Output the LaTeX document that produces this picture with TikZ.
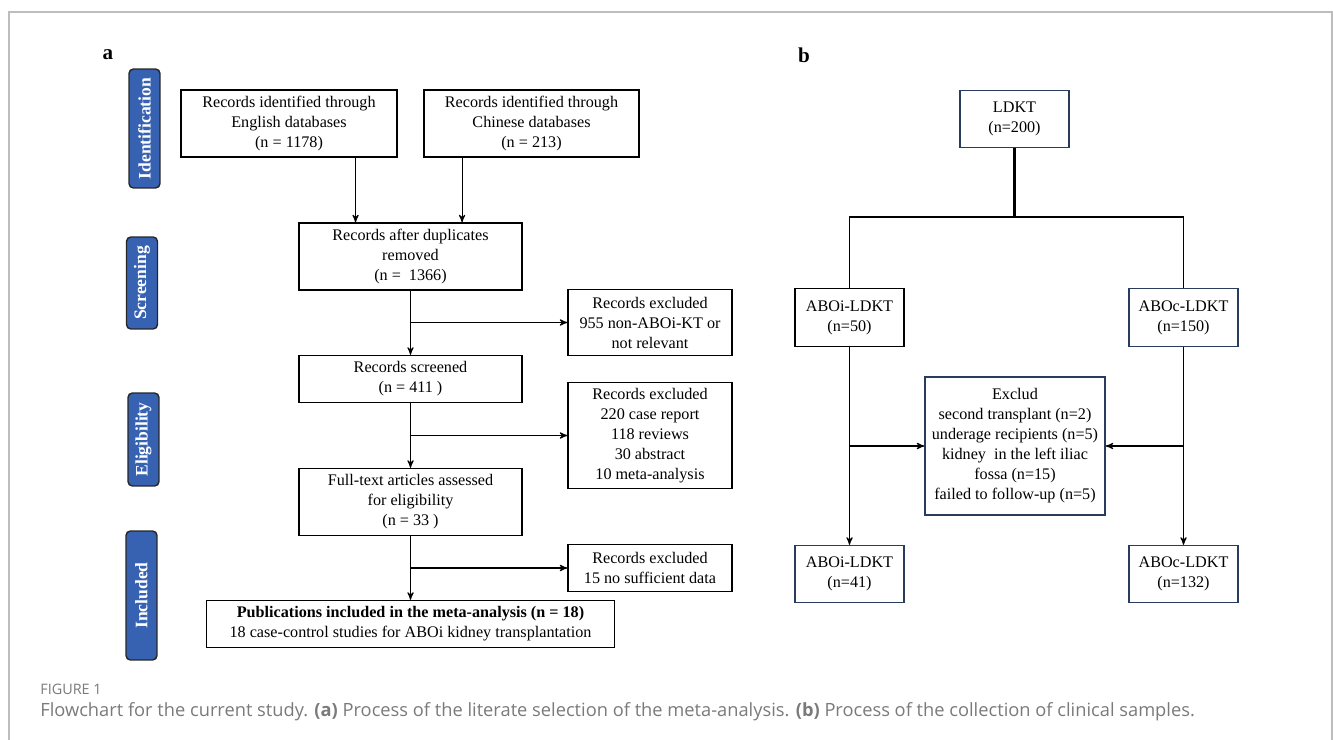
\documentclass[tikz,border=0pt]{standalone}
\usepackage{fontspec}
\setmainfont{Liberation Serif}
\newfontfamily\capfont{Open Sans}
\usepackage{tikz}
\usetikzlibrary{shapes,positioning,arrows,calc}
\definecolor{tabblue}{HTML}{3762B2}
\definecolor{boxnavy}{HTML}{2A3C5E}
\definecolor{capgray}{HTML}{7A7A7A}
\definecolor{framegray}{HTML}{BDBDBD}
\tikzstyle{box}=[draw, line width=0.8pt, align=center, inner sep=1pt, font=\fontsize{9.2}{11.4}\selectfont]
\tikzstyle{stagetab}=[draw=black!85, fill=tabblue, rounded corners=2.5pt, line width=0.8pt, rotate=90, text=white, font=\bfseries\fontsize{10}{12}\selectfont, minimum height=0.62cm, inner sep=0]
\tikzstyle{link}=[line width=0.6pt]
\tikzset{>=stealth'}
\newcommand{\drawbox}{\node[box]}
\newcommand{\drawtab}{\node[stagetab]}

\begin{document}
\begin{tikzpicture}[x=0.02cm,y=-0.02cm]
	\useasboundingbox (0,0) rectangle (1333,740);
	\draw[framegray, line width=0.7pt] (9,740) -- (9,12) -- (1332,12) -- (1332,740);

	% panel a
	\node[font=\bfseries\fontsize{12}{14}\selectfont] (la) at (108,55) {a};
	\drawtab[minimum width=2.38cm] (ident) at (144.5,128.5) {Identification};
	\drawtab[minimum width=1.84cm] (screen) at (142,283) {Screening};
	\drawtab[minimum width=1.86cm] (elig) at (143.5,439.5) {Eligibility};
	\drawtab[minimum width=2.58cm] (incl) at (141.5,595.5) {Included};

	\drawbox[minimum width=4.32cm, minimum height=1.34cm] (eng) at (289,123.5) {Records identified through\\English databases\\(n = 1178)};
	\drawbox[minimum width=4.30cm, minimum height=1.34cm] (chi) at (531.5,123.5) {Records identified through\\Chinese databases\\(n = 213)};
	\drawbox[minimum width=4.46cm, minimum height=1.34cm] (dup) at (410.5,256.5) {Records after duplicates\\removed\\(n =\ \ 1366)};
	\drawbox[minimum width=3.28cm, minimum height=1.32cm] (exc1) at (650,322.5) {Records excluded\\955 non-ABOi-KT or\\not relevant};
	\drawbox[minimum width=4.46cm, minimum height=0.94cm] (scr) at (410.5,379) {Records screened\\(n = 411 )};
	\drawbox[minimum width=3.28cm, minimum height=2.12cm] (exc2) at (650,435.5) {Records excluded\\220 case report\\118 reviews\\30 abstract\\10 meta-analysis};
	\drawbox[minimum width=4.46cm, minimum height=1.34cm] (full) at (410.5,502) {Full-text articles assessed\\for eligibility\\(n = 33 )};
	\drawbox[minimum width=3.28cm, minimum height=0.94cm] (exc3) at (650,568) {Records excluded\\15 no sufficient data};
	\drawbox[minimum width=8.16cm, minimum height=0.94cm] (pub) at (410.5,624) {\textbf{Publications included in the meta-analysis (n = 18)}\\18 case-control studies for ABOi kidney transplantation};

	\coordinate (inE) at ($(dup.north west)!.255!(dup.north east)$);
	\coordinate (inC) at ($(dup.north west)!.73!(dup.north east)$);
	\draw[link,->] (eng.south -| inE) -- (inE);
	\draw[link,->] (chi.south -| inC) -- (inC);
	\draw[link,->] (dup) -- (scr);
	\draw[link,->] (dup.south |- exc1.west) -- (exc1.west);
	\draw[link,->] (scr) -- (full);
	\draw[link,->] (scr.south |- exc2.west) -- (exc2.west);
	\draw[link,->] (full) -- (pub);
	\draw[link,->] (full.south |- exc3.west) -- (exc3.west);

	% panel b
	\node[font=\bfseries\fontsize{12}{14}\selectfont] (lb) at (804,55) {b};
	\drawbox[draw=boxnavy, minimum width=2.18cm, minimum height=1.14cm] (ldkt) at (1014.5,119) {LDKT\\(n=200)};
	\drawbox[minimum width=2.18cm, minimum height=1.16cm] (aboi1) at (849.5,317.5) {ABOi-LDKT\\(n=50)};
	\drawbox[draw=boxnavy, minimum width=2.18cm, minimum height=1.16cm] (aboc1) at (1183.5,317.5) {ABOc-LDKT\\(n=150)};
	\drawbox[draw=boxnavy, minimum width=3.6cm, minimum height=2.76cm] (exb) at (1015,446) {Exclud\\second transplant (n=2)\\underage recipients (n=5)\\kidney\ \ in the left iliac\\fossa (n=15)\\failed to follow-up (n=5)};
	\drawbox[draw=boxnavy, minimum width=2.18cm, minimum height=1.14cm] (aboi2) at (849.5,574) {ABOi-LDKT\\(n=41)};
	\drawbox[draw=boxnavy, minimum width=2.18cm, minimum height=1.14cm] (aboc2) at (1183.5,574) {ABOc-LDKT\\(n=132)};

	\coordinate (fork) at (1014.5,217);
	\draw[line width=1.3pt] (ldkt.south) -- (fork);
	\draw[link] (aboi1.north) |- (fork) -| (aboc1.north);
	\draw[link,->] (aboi1) -- (aboi2);
	\draw[link,->] (aboc1) -- (aboc2);
	\draw[link,->] (aboi1.south |- exb.west) -- (exb.west);
	\draw[link,->] (aboc1.south |- exb.east) -- (exb.east);

	% caption
	\node[anchor=west, inner sep=0, text=capgray, font=\capfont\fontsize{8.2}{10}\selectfont] (fig) at (40,689) {FIGURE 1};
	\node[anchor=west, inner sep=0, text=capgray, font=\capfont\fontsize{10.4}{12}\selectfont] (cap) at (40,712) {Flowchart for the current study. \textbf{(a)} Process of the literate selection of the meta-analysis. \textbf{(b)} Process of the collection of clinical samples.};
\end{tikzpicture}
\end{document}
